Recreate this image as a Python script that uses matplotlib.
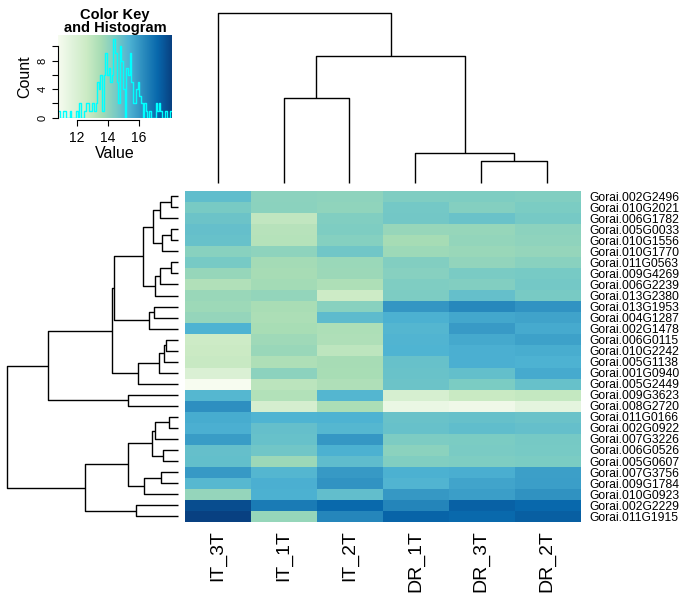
import numpy as np
import matplotlib
matplotlib.use("Agg")
import matplotlib.pyplot as plt

plt.rcParams['font.family'] = ['Liberation Sans', 'DejaVu Sans']

# columns / rows in the order shown (already clustered)
samples = ["IT_3T", "IT_1T", "IT_2T", "DR_1T", "DR_3T", "DR_2T"]
genes = ["Gorai.002G2496", "Gorai.010G2021", "Gorai.006G1782", "Gorai.005G0033",
         "Gorai.010G1556", "Gorai.010G1770", "Gorai.011G0563", "Gorai.009G4269",
         "Gorai.006G2239", "Gorai.013G2380", "Gorai.013G1953", "Gorai.004G1287",
         "Gorai.002G1478", "Gorai.006G0115", "Gorai.010G2242", "Gorai.005G1138",
         "Gorai.001G0940", "Gorai.005G2449", "Gorai.009G3623", "Gorai.008G2720",
         "Gorai.011G0166", "Gorai.002G0922", "Gorai.007G3226", "Gorai.006G0526",
         "Gorai.005G0607", "Gorai.007G3756", "Gorai.009G1784", "Gorai.010G0923",
         "Gorai.002G2229", "Gorai.011G1915"]

# expression values, one row per gene, columns as in samples
values = np.array([
    [15.02, 14.12, 14.08, 14.38, 14.42, 14.35],
    [14.52, 14.15, 14.05, 14.62, 14.28, 14.47],
    [14.78, 12.92, 14.36, 14.64, 14.82, 14.58],
    [14.93, 13.18, 14.41, 13.88, 13.92, 14.11],
    [14.88, 13.24, 14.27, 13.62, 13.97, 14.06],
    [14.22, 14.09, 14.66, 13.79, 13.86, 13.95],
    [14.55, 13.63, 13.83, 14.31, 14.02, 14.18],
    [13.91, 13.57, 13.81, 14.24, 14.49, 14.56],
    [13.33, 13.66, 13.42, 14.39, 14.33, 14.61],
    [13.86, 13.98, 12.62, 14.44, 14.91, 14.53],
    [13.77, 13.52, 14.21, 16.08, 16.37, 16.12],
    [13.94, 13.47, 15.06, 15.43, 15.67, 15.74],
    [15.38, 13.54, 13.44, 15.28, 15.96, 15.57],
    [12.58, 13.76, 13.37, 15.33, 15.62, 15.81],
    [12.66, 13.87, 13.03, 15.36, 15.48, 15.53],
    [12.74, 13.41, 13.58, 14.87, 15.46, 15.42],
    [12.02, 14.13, 13.56, 14.83, 14.96, 15.58],
    [10.82, 13.07, 13.39, 14.79, 14.46, 14.86],
    [15.23, 13.29, 15.27, 12.18, 12.71, 12.83],
    [16.22, 12.23, 13.46, 11.32, 11.14, 11.57],
    [15.56, 15.34, 15.37, 14.84, 14.89, 14.81],
    [15.47, 14.92, 15.24, 14.86, 15.01, 14.93],
    [15.93, 14.88, 16.04, 14.43, 14.47, 14.57],
    [14.91, 14.67, 15.44, 14.16, 14.48, 14.54],
    [14.94, 13.82, 15.03, 14.34, 14.41, 14.46],
    [15.97, 15.26, 15.99, 15.45, 15.49, 15.84],
    [15.22, 15.46, 16.11, 15.31, 15.71, 15.87],
    [13.96, 15.44, 14.98, 16.02, 15.86, 16.16],
    [17.82, 16.72, 17.18, 16.48, 17.36, 17.22],
    [18.14, 13.93, 16.43, 17.31, 17.17, 17.42],
])

# dendrogram merges: (child a, child b, height); children >= n are earlier merges
row_merges = [
    (0, 1, 7.3), (30, 2, 18), (3, 4, 7), (32, 5, 16.3), (31, 33, 25.3),
    (6, 7, 7.3), (35, 8, 18), (36, 9, 23), (34, 37, 34.7), (10, 11, 24),
    (39, 12, 29), (38, 40, 63.7), (13, 14, 12), (42, 15, 13.7), (43, 16, 18.7),
    (44, 17, 39.7), (41, 45, 66.3), (18, 19, 50.3), (46, 47, 130.3), (20, 21, 8.7),
    (49, 22, 23), (23, 24, 14.7), (50, 51, 25.7), (25, 26, 17.3), (53, 27, 34),
    (52, 54, 50.3), (28, 29, 42.3), (55, 56, 93), (48, 57, 170.7),
]
col_merges = [(1, 2, 85.6), (4, 5, 22.6), (3, 7, 30.3), (6, 8, 127.6), (0, 9, 170)]


def dendro_segments(merges, n):
    pos = {i: float(i) for i in range(n)}
    hgt = {i: 0.0 for i in range(n)}
    segs = []
    for k, (a, b, h) in enumerate(merges):
        segs.append(([pos[a], pos[a], pos[b], pos[b]], [hgt[a], h, h, hgt[b]]))
        pos[n + k] = (pos[a] + pos[b]) / 2
        hgt[n + k] = h
    return segs


W, H = 683, 598
fig = plt.figure(figsize=(W / 100, H / 100), dpi=100)


def box(x0, y0, x1, y1):
    return [x0 / W, 1 - y1 / H, (x1 - x0) / W, (y1 - y0) / H]


cmap = plt.cm.GnBu
vmin, vmax = values.min(), values.max()
nr, nc = values.shape

# heatmap
ax = fig.add_axes(box(184.7, 190.7, 580, 521.7))
ax.imshow(values, cmap=cmap, vmin=vmin, vmax=vmax, aspect='auto',
          interpolation='nearest', extent=(-0.5, nc - 0.5, nr - 0.5, -0.5))
ax.set_xlim(-0.5, nc - 0.5)
ax.set_ylim(nr - 0.5, -0.5)
for s in ax.spines.values():
    s.set_visible(False)
ax.set_xticks(range(nc))
ax.set_xticklabels(samples, rotation=90, fontsize=14)
ax.set_yticks(range(nr))
ax.set_yticklabels(genes, fontsize=8.7)
ax.yaxis.tick_right()
ax.tick_params(axis='x', length=0, pad=6)
ax.tick_params(axis='y', length=0, pad=7)

# row dendrogram
axr = fig.add_axes(box(7.3, 190.7, 178, 521.7))
for p, h in dendro_segments(row_merges, nr):
    axr.plot(h, p, color='black', lw=1.0, clip_on=False, solid_capstyle='butt')
axr.set_xlim(row_merges[-1][2], 0)
axr.set_ylim(nr - 0.5, -0.5)
axr.axis('off')

# column dendrogram
axc = fig.add_axes(box(184.7, 13.3, 580, 183.3))
for p, h in dendro_segments(col_merges, nc):
    axc.plot(p, h, color='black', lw=1.0, clip_on=False, solid_capstyle='butt')
axc.set_xlim(-0.5, nc - 0.5)
axc.set_ylim(0, col_merges[-1][2])
axc.axis('off')

# colour key with histogram
axk = fig.add_axes(box(58.3, 35, 171.7, 117.7))
breaks = np.linspace(vmin, vmax, 71)
counts, _ = np.histogram(values.ravel(), bins=breaks)
top = counts.max() / 0.95
grad = np.linspace(vmin, vmax, 256)[None, :]
axk.imshow(grad, cmap=cmap, aspect='auto', extent=(vmin, vmax, 0, top))
axk.step(breaks, np.append(counts, counts[-1]), where='post', color='cyan', lw=1.0)
axk.set_xlim(vmin, vmax)
axk.set_ylim(0, top)
for side in ['top', 'right']:
    axk.spines[side].set_visible(False)
yt = np.arange(0, counts.max() + 1, 2)
axk.set_yticks(yt)
axk.set_yticklabels([str(t) if t % 4 == 0 else '' for t in yt], rotation=90,
                    va='center', fontsize=8)
axk.spines['left'].set_bounds(yt[0], yt[-1])
xt = [12, 14, 16]
axk.set_xticks(xt)
axk.set_xticklabels([str(t) for t in xt], fontsize=8.5)
axk.spines['bottom'].set_bounds(xt[0], xt[-1])
axk.spines['bottom'].set_position(('outward', 2))
axk.tick_params(length=4, width=0.8)
axk.set_xlabel('Value', fontsize=11.5, labelpad=1)
axk.set_ylabel('Count', fontsize=11.5, labelpad=4)
axk.set_title('Color Key\nand Histogram', fontsize=10.5, fontweight='bold',
              linespacing=0.95, pad=1)

fig.savefig('out.png', dpi=100)
